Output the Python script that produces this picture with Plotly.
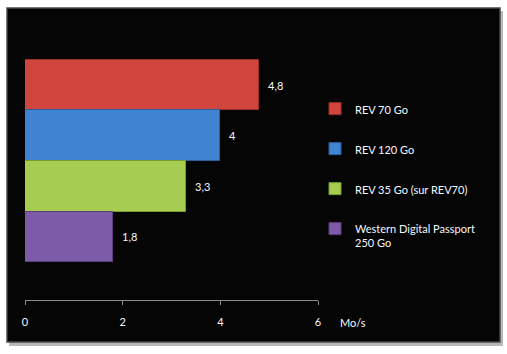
import plotly.graph_objects as go

series = ["REV 70 Go", "REV 120 Go", "REV 35 Go (sur REV70)", "Western Digital Passport<br>250 Go"]
values = [4.8, 4.0, 3.3, 1.8]
labels = ["4,8", "4", "3,3", "1,8"]
colors = ["#D0463F", "#4083D2", "#A6CC50", "#7E5BA8"]
edges = ["#9E2E2B", "#2D5F9E", "#7A9A34", "#5B3F80"]
xticks = [0, 2, 4, 6]

L, R, T, B = 25, 189, 22, 54
W, H = 507, 354
pw, ph = W - L - R, H - T - B

fig = go.Figure()
for name, v, c, e in zip(series, values, colors, edges):
    fig.add_trace(go.Bar(
        x=[v], y=[name], orientation="h", name=name,
        marker=dict(color=c, line=dict(color=e, width=1)),
        legendgroup=name, showlegend=True,
    ))

for name, v, lab in zip(series, values, labels):
    fig.add_annotation(x=v, y=name, text=lab, showarrow=False, xanchor="left",
                       xshift=7, font=dict(color="#F4F8FF", size=11, family="Lato"))

fig.add_annotation(x=(338 - L) / pw, y=-(322 - (H - B)) / ph, xref="paper", yref="paper",
                   text="Mo/s", showarrow=False, xanchor="left", yanchor="middle",
                   font=dict(color="#F4F8FF", size=11, family="Lato"))

def px_to_paper_x(px):
    return (px - L) / pw

def px_to_paper_y(py):
    return (H - B - py) / ph

# shadow and panel
fig.add_shape(type="rect", xref="paper", yref="paper", layer="below",
              x0=px_to_paper_x(9), x1=px_to_paper_x(503), y0=px_to_paper_y(11), y1=px_to_paper_y(346),
              fillcolor="#B8B8B8", line=dict(width=0))
fig.add_shape(type="rect", xref="paper", yref="paper", layer="below",
              x0=px_to_paper_x(7), x1=px_to_paper_x(500), y0=px_to_paper_y(8), y1=px_to_paper_y(342),
              fillcolor="#050505", line=dict(color="#4A4A4A", width=1.5))

fig.update_layout(
    width=W, height=H,
    margin=dict(l=L, r=R, t=T, b=B),
    paper_bgcolor="white", plot_bgcolor="rgba(0,0,0,0)",
    barmode="overlay", bargap=0,
    font=dict(family="Lato", color="#F4F8FF", size=11),
    xaxis=dict(range=[0, 6], tickvals=xticks, ticktext=[str(t) for t in xticks],
               showgrid=False, zeroline=False, showline=True, linecolor="#8C8C8C", linewidth=1,
               ticks="outside", ticklen=4, tickcolor="#8C8C8C", tickwidth=1,
               ticklabelstandoff=8, tickfont=dict(color="#F4F8FF", size=11, family="Lato"),
               fixedrange=True),
    yaxis=dict(type="category", categoryorder="array", categoryarray=series,
               range=[3.5 + 0.75, -0.5 - 0.75], showticklabels=False, showgrid=False,
               zeroline=False, showline=False, ticks="", fixedrange=True),
    legend=dict(x=px_to_paper_x(315), y=px_to_paper_y(95), xanchor="left", yanchor="top",
                bgcolor="rgba(0,0,0,0)", font=dict(color="#F4F8FF", size=11, family="Lato"),
                tracegroupgap=21, traceorder="grouped", valign="top"),
    showlegend=True,
)

fig.write_html("out.html")
